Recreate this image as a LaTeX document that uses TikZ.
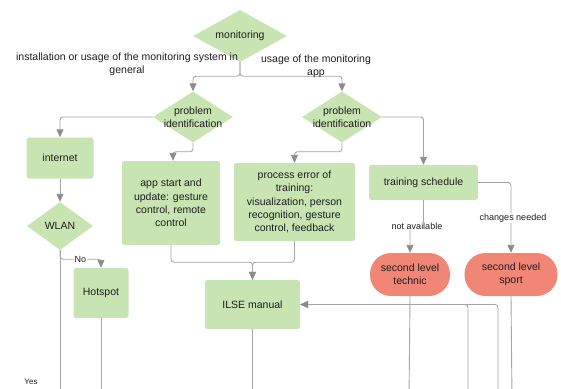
\documentclass[tikz,border=0pt]{standalone}
\usepackage{fontspec}
\setmainfont{Liberation Sans}
\usetikzlibrary{arrows.meta,shapes.geometric}
\definecolor{boxgreen}{RGB}{199,228,178}
\definecolor{pillred}{RGB}{242,134,118}
\definecolor{linegray}{RGB}{165,165,165}
\definecolor{tipgray}{RGB}{140,140,140}
\definecolor{txtc}{RGB}{30,30,30}
\begin{document}
\begin{tikzpicture}[x=1pt,y=-1pt,
  gbox/.style={rectangle, rounded corners=2.5pt, fill=boxgreen, inner sep=2pt, align=center, font=\fontsize{10.5}{13.3}\selectfont, text=txtc},
  dia/.style={diamond, fill=boxgreen, inner sep=0pt},
  dtext/.style={align=center, font=\fontsize{10.5}{13}\selectfont, text=txtc, inner sep=0pt},
  pill/.style={rectangle, rounded corners=21pt, fill=pillred, align=center, font=\fontsize{10.5}{13}\selectfont, text=txtc},
  conn/.style={draw=linegray, line width=0.9pt, rounded corners=3pt, -{Triangle[length=8pt,width=7pt,color=tipgray]}},
  plain/.style={draw=linegray, line width=0.9pt, rounded corners=3pt},
  lbl/.style={font=\fontsize{9}{11}\selectfont, fill=white, inner sep=1pt, text=txtc},
  toplbl/.style={font=\fontsize{10.5}{13}\selectfont, align=center, text=txtc, inner sep=0pt}
]
\useasboundingbox (0,0) rectangle (561,388);
\clip (0,0) rectangle (561,388);

% diamonds
\node[dia, minimum width=94pt, minimum height=52pt] (mon) at (240,36) {};
\node[dtext] (mont) at (mon) {monitoring};
\node[dia, minimum width=80pt, minimum height=51pt] (pi1) at (193,117) {};
\node[dtext] (pi1t) at (pi1) {problem\\identification};
\node[dia, minimum width=80pt, minimum height=51pt] (pi2) at (342,117) {};
\node[dtext] (pi2t) at (pi2) {problem\\identification};
\node[dia, minimum width=66pt, minimum height=48pt] (wlan) at (60,226) {};
\node[dtext] (wlant) at (wlan) {WLAN};

% boxes
\node[gbox, minimum width=67pt, minimum height=41pt] (inet) at (60,158) {internet};
\node[gbox, minimum width=55pt, minimum height=50pt] (hot) at (101,293) {Hotspot};
\node[gbox, minimum width=98pt, minimum height=84pt] (app) at (171,203) {app start and\\update: gesture\\control, remote\\control};
\node[gbox, minimum width=121pt, minimum height=78pt] (proc) at (294.5,202) {process error of\\training:\\visualization, person\\recognition, gesture\\control, feedback};
\node[gbox, minimum width=109pt, minimum height=35pt] (train) at (423.5,182.5) {training schedule};
\node[gbox, minimum width=95pt, minimum height=49pt] (ilse) at (252.5,304.5) {ILSE manual};
\node[pill, minimum width=80pt, minimum height=43pt] (tech) at (410,274.5) {second level\\technic};
\node[pill, minimum width=93pt, minimum height=43pt] (sport) at (511,274.5) {second level\\sport};

% connectors
\draw[conn] (mon.south) -- ++(0,14) -| (pi1.north);
\draw[conn] (mon.south) -- ++(0,14) -| (pi2.north);
\draw[conn] (pi1.west) -| (inet.north);
\draw[conn] (pi1.south) -- ++(0,9) -| ([xshift=2pt]app.north);
\draw[conn] (pi2.south) -- ++(0,9) -| (proc.north);
\draw[conn] (pi2.east) -| (train.north);
\draw[conn] (inet.south) -- (wlan.north);
\draw[plain] (wlan.south) -- (60,400);
\draw[conn] (wlan.south) -- ++(0,9) -| node[pos=0.25, lbl] (nolbl) {No} (hot.north);
\draw[plain] (hot.south) -- (101,400);
\draw[conn] (app.south) -- ++(0,17) -| (ilse.north);
\draw[conn] (proc.south) -- ++(0,21) -| (ilse.north);
\draw[plain] (ilse.south) -- (252.5,400);
\draw[conn] (train.south) -- ++(0,26) -| (tech.north);
\draw[conn] (train.east) -| (sport.north);
\draw[plain] (tech.south) -- (409,400);
\draw[plain] (sport.south) -- (512,400);
\coordinate (b1) at (468,400);
\coordinate (b2) at (498,400);
\draw[conn] (b1) |- (ilse.east);
\draw[conn] (b2) |- (ilse.east);

% labels
\node[lbl] (nalbl) at (417,226) {not available};
\node[lbl] (cnlbl) at (513,218) {changes needed};
\node[lbl, font=\fontsize{8}{10}\selectfont] (yeslbl) at (31,382) {Yes};
\node[toplbl] (lbll) at (127,64.5) {installation or usage of the monitoring system in\\general};
\node[toplbl] (lblr) at (316,66.5) {usage of the monitoring\\app};
\end{tikzpicture}
\end{document}
